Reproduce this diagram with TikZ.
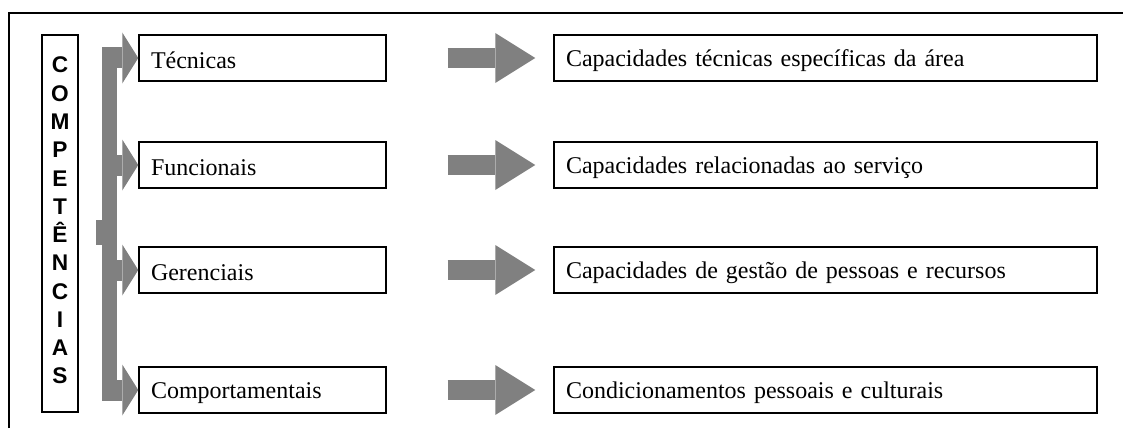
\documentclass[tikz,border=0pt]{standalone}
\usepackage{fontspec}
\setmainfont{Liberation Serif}
\newfontfamily\letrafont{Liberation Sans}
\usetikzlibrary{arrows.meta}
\definecolor{setacinza}{HTML}{808080}
\tikzset{
  caixa/.style={draw, line width=1.1pt, align=left, inner xsep=9pt,
    minimum height=34.5pt, font=\fontsize{18}{20}\selectfont,
    execute at begin node={\rule{0pt}{0.92em}}},
  caixaesq/.style={caixa, text width=167.25pt},
  caixadir/.style={caixa, text width=389.25pt},
  letra/.style={anchor=base, inner sep=0pt,
    font=\letrafont\bfseries\fontsize{17}{18}\selectfont},
  ramo/.style={draw=setacinza, line width=15.75pt,
    -{Triangle[length=12pt,width=38.25pt,line width=0pt]}},
  seta/.style={draw=setacinza, line width=15pt,
    -{Triangle[length=30pt,width=37.5pt,line width=0pt]},
    shorten <=45.75pt, shorten >=13.5pt}
}
\begin{document}
\begin{tikzpicture}[x=0.75pt,y=-0.75pt]
\useasboundingbox (0,0) rectangle (1123,428);
% Moldura
\draw[line width=0.8pt] (9,428) -- (9,13) -- (1123,13);
% Caixa vertical
\node[draw, line width=1.1pt, minimum width=27pt, minimum height=282.75pt] (competencias) at (60,223.5) {};
\foreach \l [count=\i] in {C,O,M,P,E,T,Ê,N,C,I,A,S}
  \node[letra] (letra\i) at (60,{73+28.27*(\i-1)}) {\l};
% Tipos de competencia
\node[caixaesq] (tecnicas) at (262.5,58) {Técnicas};
\node[caixaesq] (funcionais) at (262.5,165) {Funcionais};
\node[caixaesq] (gerenciais) at (262.5,270) {Gerenciais};
\node[caixaesq] (comportamentais) at (262.5,390) {Comportamentais};
% Descricoes
\node[caixadir] (capTecnicas) at (825.5,58) {Capacidades técnicas específicas da área};
\node[caixadir] (capFuncionais) at (825.5,165) {Capacidades relacionadas ao serviço};
\node[caixadir] (capGerenciais) at (825.5,270) {Capacidades de gestão de pessoas e recursos};
\node[caixadir] (condComport) at (825.5,390) {Condicionamentos pessoais e culturais};
% Chave cinza
\coordinate (barra) at (102,47);
\fill[setacinza] (barra) rectangle (117,400);
\fill[setacinza] (96,220) rectangle (102,245);
\foreach \n in {tecnicas,funcionais,gerenciais,comportamentais}
  \draw[ramo] (barra |- \n.west) -- (\n.west);
% Setas do meio
\draw[seta] (tecnicas) -- (capTecnicas);
\draw[seta] (funcionais) -- (capFuncionais);
\draw[seta] (gerenciais) -- (capGerenciais);
\draw[seta] (comportamentais) -- (condComport);
\end{tikzpicture}
\end{document}
